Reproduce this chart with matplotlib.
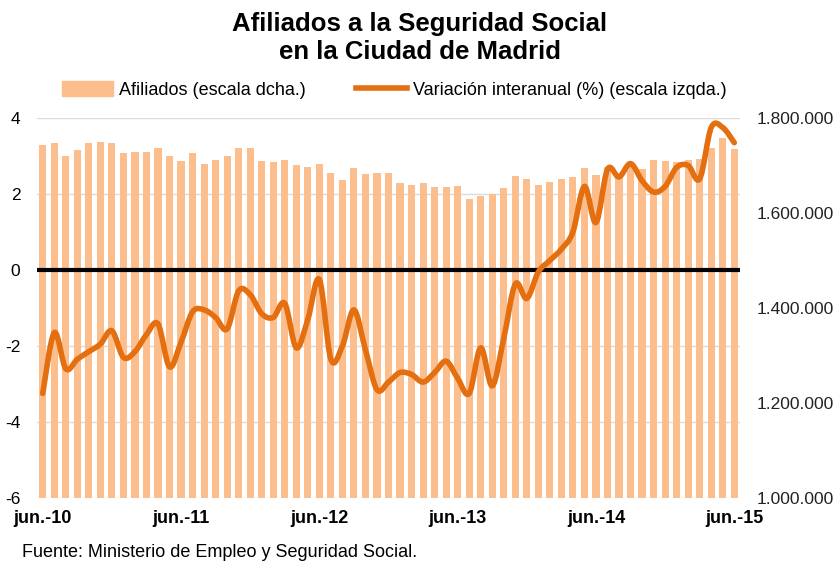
import matplotlib.pyplot as plt
from matplotlib.path import Path
from matplotlib.patches import PathPatch, Patch
from matplotlib.lines import Line2D
from matplotlib.transforms import blended_transform_factory
import numpy as np

# monthly data, jun-10 .. jun-15
afiliados = [1743200, 1747400, 1720700, 1732600, 1747400, 1749500, 1747400, 1725600,
             1727700, 1727700, 1737500, 1720700, 1708800, 1725600, 1703800, 1710900,
             1720700, 1737500, 1737500, 1708800, 1706700, 1710900, 1701000, 1696800,
             1703800, 1684200, 1669500, 1694100, 1681400, 1684200, 1684200, 1662500,
             1659700, 1662500, 1654700, 1654700, 1657500, 1630100, 1635100, 1640700,
             1652600, 1677300, 1671600, 1659700, 1664600, 1671600, 1676400, 1694100,
             1679300, 1696100, 1682100, 1696000, 1692000, 1710900, 1708800, 1706700,
             1710900, 1713000, 1737500, 1757200, 1735400]
variacion = [-3.25, -1.65, -2.6, -2.35, -2.15, -1.95, -1.6, -2.3, -2.15, -1.7,
             -1.42, -2.55, -1.9, -1.1, -1.05, -1.25, -1.55, -0.55, -0.65, -1.15,
             -1.25, -0.88, -2.05, -1.3, -0.25, -2.35, -2.0, -1.05, -2.1, -3.15,
             -2.95, -2.7, -2.75, -2.95, -2.7, -2.4, -2.85, -3.25, -2.05, -3.05,
             -1.8, -0.37, -0.75, -0.05, 0.25, 0.55, 1.0, 2.2, 1.25, 2.65,
             2.45, 2.8, 2.35, 2.05, 2.2, 2.7, 2.75, 2.4, 3.75, 3.75, 3.35]
xlabels = ['jun.-10', 'jun.-11', 'jun.-12', 'jun.-13', 'jun.-14', 'jun.-15']
left_ticks = [-6, -4, -2, 0, 2, 4]
right_ticks = [1000000, 1200000, 1400000, 1600000, 1800000]

bar_color = '#FBBE8C'
line_color = '#E36F10'
plt.rcParams['font.family'] = ['Liberation Sans', 'DejaVu Sans']

x = np.arange(len(afiliados))

fig = plt.figure(figsize=(8.4, 5.62), dpi=100)
ax = fig.add_axes([0.044, 0.114, 0.837, 0.676])
ax2 = ax.twinx()
ax.set_zorder(2)
ax2.set_zorder(1)
ax.patch.set_visible(False)

# bars (right scale), grid follows the left scale but sits behind the bars
ax2.set_ylim(1000000, 1800000)
gtr = blended_transform_factory(ax2.transAxes, ax.transData)
for t in [-4, -2, 2, 4]:
    ax2.plot([0, 1], [t, t], transform=gtr, color='#DCDCDC', lw=1, zorder=0)
ax2.bar(x, afiliados, width=0.62, color=bar_color, zorder=2)
ax2.set_yticks(right_ticks)
ax2.set_yticklabels([f'{v:,}'.replace(',', '.') for v in right_ticks], fontsize=12.5, color='#222222')
ax2.tick_params(axis='y', length=0, pad=12)

# smoothed line (left scale)
ax.set_ylim(-6, 4)
ax.set_xlim(-0.5, 60.5)
pts = np.column_stack([x, variacion]).astype(float)
verts = [pts[0]]
codes = [Path.MOVETO]
n = len(pts)
for i in range(n - 1):
    p0 = pts[max(i - 1, 0)]
    p1 = pts[i]
    p2 = pts[i + 1]
    p3 = pts[min(i + 2, n - 1)]
    verts += [p1 + (p2 - p0) / 6, p2 - (p3 - p1) / 6, p2]
    codes += [Path.CURVE4] * 3
ax.axhline(0, color='black', lw=3, zorder=3)
ax.add_patch(PathPatch(Path(verts, codes), facecolor='none', edgecolor=line_color,
                       lw=4, capstyle='round', joinstyle='round', zorder=4))
ax.set_yticks(left_ticks)
ax.set_yticklabels([str(t) for t in left_ticks], fontsize=12.5)
ax.tick_params(axis='y', length=0, pad=12)

ax.set_xticks(x[::12])
ax.set_xticklabels(xlabels, fontsize=13, fontweight='bold')
ax.tick_params(axis='x', length=0, pad=9)

for a in (ax, ax2):
    for s in a.spines.values():
        s.set_visible(False)

fig.text(0.5, 0.978, 'Afiliados a la Seguridad Social\nen la Ciudad de Madrid',
         ha='center', va='top', fontsize=18.5, fontweight='bold', linespacing=1.2)

handles = [Patch(color=bar_color), Line2D([0], [0], color=line_color, lw=4)]
fig.legend(handles, ['Afiliados (escala dcha.)', 'Variación interanual (%) (escala izqda.)'],
           loc='center left', bbox_to_anchor=(0.074, 0.84), ncol=2, frameon=False,
           fontsize=13, handlelength=2.8, handleheight=0.9, handletextpad=0.35,
           columnspacing=2.8, borderaxespad=0, borderpad=0)

fig.text(0.026, 0.002, 'Fuente: Ministerio de Empleo y Seguridad Social.', fontsize=13,
         va='bottom')

fig.savefig('out.png', dpi=100)
